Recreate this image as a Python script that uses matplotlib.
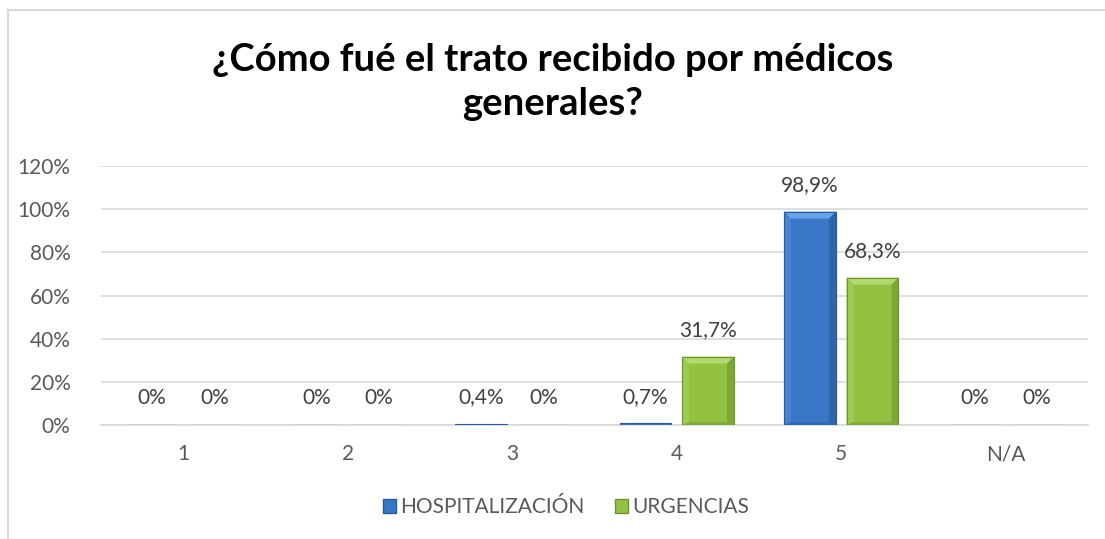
import matplotlib
matplotlib.use("Agg")
import matplotlib.pyplot as plt
from matplotlib.patches import Rectangle, Polygon
from matplotlib.lines import Line2D
import numpy as np

categories = ["1", "2", "3", "4", "5", "N/A"]
hospitalizacion = [0.0, 0.0, 0.4, 0.7, 98.9, 0.0]
urgencias = [0.0, 0.0, 0.0, 31.7, 68.3, 0.0]
series_names = ["HOSPITALIZACIÓN", "URGENCIAS"]
yticks = [0, 20, 40, 60, 80, 100, 120]
title = "¿Cómo fué el trato recibido por médicos\ngenerales?"

plt.rcParams['font.family'] = ['Lato', 'DejaVu Sans']
txt = "#595959"
grid = "#d9d9d9"
fs = 15

fig = plt.figure(figsize=(11.05, 5.39), dpi=100)
ax = fig.add_axes([101/1105, 1-425/539, (1088-101)/1105, (425-166)/539])

x = np.arange(len(categories))
w = 0.316
off = 0.19
colors = ["#3a76c6", "#93c142"]
edges = ["#2a5a9a", "#6e932c"]
light = ["#68a3ea", "#b3da70"]
lighter_side = ["#4884d2", "#9fcb52"]
dark_side = ["#2f64a8", "#7ca736"]
bottom_c = ["#3069b0", "#80aa38"]

def fmt(v):
    if v == 0:
        return "0%"
    s = f"{v:.1f}".replace(".", ",")
    return s + "%"

bx = 7 / 164.5          # bevel width in x data units
by = 7 / (259 / 120)    # bevel height in y data units

for k, (vals, o) in enumerate([(hospitalizacion, -off), (urgencias, off)]):
    bars = ax.bar(x + o, vals, width=w, color=colors[k], edgecolor=edges[k], linewidth=0.8, zorder=3)
    for b, v in zip(bars, vals):
        if v > 3 * by:
            x0, x1 = b.get_x(), b.get_x() + b.get_width()
            y0, y1 = 0, v
            polys = [
                ([(x0, y1), (x1, y1), (x1 - bx, y1 - by), (x0 + bx, y1 - by)], light[k]),
                ([(x0, y0), (x0 + bx, y0 + by * 0.4), (x0 + bx, y1 - by), (x0, y1)], lighter_side[k]),
                ([(x1, y0), (x1 - bx, y0 + by * 0.4), (x1 - bx, y1 - by), (x1, y1)], dark_side[k]),
                ([(x0, y0), (x1, y0), (x1 - bx, y0 + by * 0.4), (x0 + bx, y0 + by * 0.4)], bottom_c[k]),
            ]
            for pts, c in polys:
                ax.add_patch(Polygon(pts, closed=True, facecolor=c, edgecolor="none", zorder=4))
            ax.add_patch(Rectangle((x0, y0), x1 - x0, y1 - y0, facecolor="none",
                                   edgecolor=edges[k], linewidth=0.8, zorder=5))
    for xi, v in zip(x + o, vals):
        ax.annotate(fmt(v), (xi, v), xytext=(0, 12), textcoords="offset points",
                    ha="center", va="bottom", fontsize=fs, color="#404040")

ax.set_xlim(-0.5, len(categories) - 0.5)
ax.set_ylim(0, 120)
ax.set_yticks(yticks)
ax.set_yticklabels([f"{t}%" for t in yticks])
ax.set_xticks(x)
ax.set_xticklabels(categories)
ax.tick_params(axis="both", length=0, labelsize=fs, labelcolor=txt)
ax.tick_params(axis="y", pad=22)
ax.tick_params(axis="x", pad=14)
ax.yaxis.grid(True, color=grid, linewidth=1.2, zorder=0)
for s in ["top", "right", "left"]:
    ax.spines[s].set_visible(False)
ax.spines["bottom"].set_color(grid)
ax.spines["bottom"].set_linewidth(1.2)

fig.text(553/1105, 1-82/539, title, ha="center", va="center", fontsize=27.5,
         fontweight="bold", color="black", linespacing=1.38)

handles = [Rectangle((0, 0), 1, 1, facecolor=colors[0], edgecolor=edges[0]),
           Rectangle((0, 0), 1, 1, facecolor=colors[1], edgecolor=edges[1])]
fig.legend(handles, series_names, loc="center", bbox_to_anchor=(566/1105, 1-507/539),
           ncol=2, frameon=False, fontsize=fs, handlelength=0.65, handleheight=0.65,
           handletextpad=0.2, columnspacing=1.45, labelcolor=txt)

# chart border (top and left)
fig.add_artist(Line2D([8/1105, 8/1105], [0, 1-9.5/539], transform=fig.transFigure, color=grid, linewidth=1.5))
fig.add_artist(Line2D([8/1105, 1], [1-9.5/539, 1-9.5/539], transform=fig.transFigure, color=grid, linewidth=1.5))

fig.savefig("out.png", dpi=100)
